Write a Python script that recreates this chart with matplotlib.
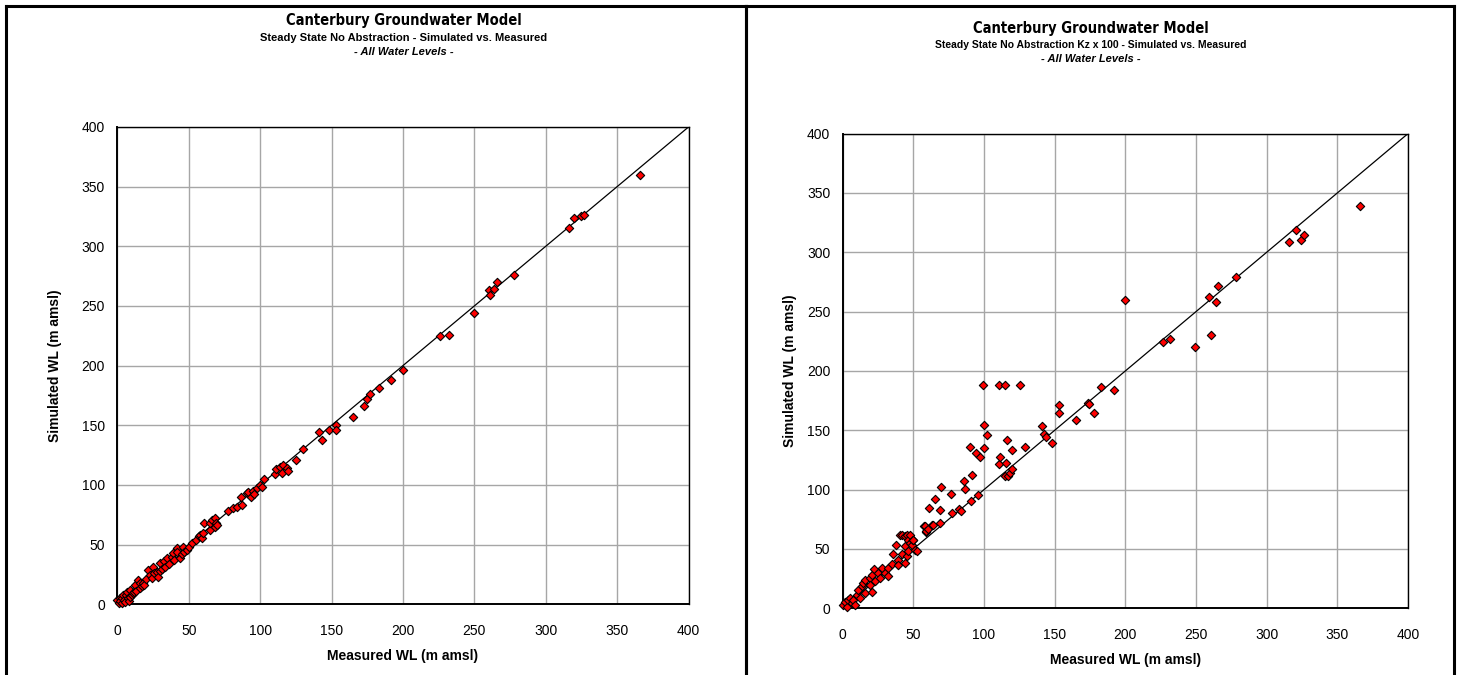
import matplotlib.pyplot as plt
from matplotlib.lines import Line2D
from matplotlib import font_manager

W, H = 1458, 675

# left chart: steady state, no abstraction
left_measured = [0, 1, 1.9, 2, 3, 3.5, 4.2, 5, 5.4, 6, 6.6, 7.7, 8, 8.9, 9, 10, 11.2, 12,
                 12.4, 13, 14.7, 15.9, 16, 17, 18.2, 19, 20, 21.7, 22.9, 24, 25.2, 26,
                 27.6, 28.7, 29.9, 30, 31, 33, 33.4, 34.5, 36, 38, 39.2, 40, 41.5, 42,
                 43.8, 45, 46.2, 47, 48.5, 50, 52, 55, 57, 57.8, 59, 59.7, 61, 64.8, 65,
                 66, 68.3, 68.3, 69, 69.5, 77.6, 81.1, 83.5, 86.3, 87, 90.5, 91.6, 93.3,
                 95.1, 95.6, 97.9, 99.8, 101, 102.8, 110.3, 111, 113.8, 115, 116.1,
                 118.5, 119.6, 125, 130, 141, 143, 148, 153, 153, 165, 173, 175, 177,
                 183, 192, 200, 226, 232, 250, 260, 261, 264, 266, 278, 316, 320, 325,
                 327, 366]
left_simulated = [3.6, 1, 5, 2.5, 5.5, 1, 7.8, 4, 2.2, 8, 10.6, 5, 3, 12, 6.5, 7.8, 9.2, 10,
                  16.2, 11.5, 20.4, 13.4, 18, 15, 17.6, 16, 21, 28.7, 24.6, 22, 31.5, 26,
                  27.3, 23.1, 34.4, 28, 30, 36, 31.5, 38.6, 34, 39.9, 42.7, 37, 46.9, 44,
                  38.6, 42, 48.3, 44, 45.5, 48, 51.1, 54, 57, 58.1, 55.3, 59.5, 68, 62.3,
                  68, 70.7, 72.1, 65, 67.9, 66.5, 78.5, 80.5, 81.8, 89.7, 83.2, 93, 94.4,
                  90.2, 95, 92.5, 97.2, 100, 98, 105, 109, 113.2, 114.8, 109.8, 116.8,
                  114, 112, 121, 130, 144, 138, 146, 150, 146, 157, 166, 172, 176, 181,
                  188, 196, 225, 226, 244, 263, 259, 264, 270, 276, 315, 324, 325, 326,
                  360]

# right chart: steady state, no abstraction, Kz x 100
right_measured = [0.5, 1.7, 2.8, 4, 5.2, 6.4, 7.5, 8.7, 9.9, 11.1, 12.3, 13.4, 14.6, 15.8,
                  15.8, 19.3, 19.3, 20.5, 20.9, 22.4, 22.9, 25.2, 26.4, 27.6, 29.9, 32.3,
                  32.3, 34.7, 35.8, 37.5, 39.4, 39.4, 40.6, 41.7, 41.8, 44.1, 44.1, 44.1,
                  45.3, 45.3, 46, 46, 47.6, 47.7, 48.8, 49.5, 50, 51.2, 52.3, 57.5, 58.2,
                  58.9, 59, 60.3, 61, 63, 63.6, 65.5, 68.5, 68.8, 69.7, 76.8, 77.5, 82.4,
                  83.8, 86.1, 86.6, 89.9, 90.8, 91.5, 94.1, 95.5, 97.2, 99.3, 99.8, 100,
                  102.1, 110.3, 110.6, 111, 114.8, 114.8, 115.7, 116.4, 117.1, 118.1,
                  119.7, 119.7, 125.6, 129.3, 141.3, 142.3, 143.7, 147.9, 153, 153, 165,
                  173.5, 174.6, 177.5, 182.6, 191.8, 199.5, 226.3, 231.9, 249.5, 259.4,
                  260.3, 264.1, 265.5, 278.6, 315.7, 320.4, 324.6, 326.3, 366]
right_simulated = [2.8, 5.7, 0.8, 7.1, 8.5, 4.2, 7.1, 2.8, 11.3, 15.5, 8.5, 18.4, 21.2, 24,
                   12.7, 25.4, 19.8, 14.1, 28.3, 33.1, 22.6, 29.7, 25.4, 33.9, 29.7, 33.9,
                   26.8, 37.6, 46, 53.7, 41, 36.7, 62.1, 45.8, 61.8, 61.3, 52.3, 38.1,
                   43.8, 62.1, 57.3, 48, 62.1, 55, 53.7, 57.9, 57.9, 49.5, 48, 69.1, 69.2,
                   64.6, 65, 67.2, 84.9, 69.8, 70.3, 92, 82.9, 71.7, 102.1, 96.7, 80.1,
                   83.8, 82.1, 107.1, 100.4, 135.6, 90.8, 112.5, 131.1, 95.3, 127.7, 188.2,
                   134.7, 154.1, 145.7, 121.2, 188.2, 127.7, 188.2, 111.9, 122.6, 141.7,
                   111.1, 114.2, 133.6, 117.5, 188.2, 135.8, 153.4, 147.2, 144.1, 139,
                   171, 164.3, 158.4, 172.7, 172.5, 164.3, 186.2, 184, 260.1, 224.2, 227,
                   220.5, 262.4, 230, 258.4, 271.3, 278.9, 308.4, 318.5, 310.7, 314.3,
                   338.8]

TICKS = list(range(0, 401, 50))

plt.rcParams['font.family'] = ['Liberation Sans', 'DejaVu Sans']

# the original titles are set in a narrow bold face; use one if there is any
title_prop = font_manager.FontProperties(family='Liberation Sans', weight='bold', size=10)
for f in font_manager.fontManager.ttflist:
    narrow = ('Narrow' in f.name or 'Condensed' in f.name or
              str(f.stretch) in ('condensed', 'semi-condensed', '75', '87'))
    if narrow and str(f.weight) in ('bold', '700') and f.style == 'normal':
        title_prop = font_manager.FontProperties(fname=f.fname, size=10.5)
        break

fig = plt.figure(figsize=(W / 100, H / 100), dpi=100)
fig.patch.set_facecolor('white')


def fx(x):
    return x / W


def fy(y):
    return 1 - y / H


def chart(box, measured, simulated, subtitle, sub_size, cx, ty, ylabelpad):
    # box = (left, top, right, bottom) of the plot area in pixels
    l, t, r, b = box
    ax = fig.add_axes([fx(l), fy(b), (r - l) / W, (b - t) / H])
    ax.set_xlim(0, 400)
    ax.set_ylim(0, 400)
    ax.set_xticks(TICKS)
    ax.set_yticks(TICKS)
    ax.grid(True, color='#a6a6a6', lw=1.0)
    ax.set_axisbelow(True)
    ax.tick_params(length=0, labelsize=10, pad=9)
    ax.tick_params(axis='x', pad=14)
    for s in ax.spines.values():
        s.set_color('black')
        s.set_linewidth(1.0)
    ax.spines['left'].set_linewidth(1.4)
    ax.spines['bottom'].set_linewidth(1.4)

    ax.plot([0, 400], [0, 400], color='black', lw=0.9, zorder=2)
    ax.scatter(measured, simulated, marker='D', s=18, c='#ff0000',
               edgecolors='black', linewidths=0.8, zorder=3, clip_on=False)

    ax.set_xlabel('Measured WL (m amsl)', fontsize=10, fontweight='bold', labelpad=8)
    ax.set_ylabel('Simulated WL (m amsl)', fontsize=10, fontweight='bold', labelpad=ylabelpad)

    fig.text(fx(cx), fy(ty), 'Canterbury Groundwater Model', ha='center', va='center',
             fontproperties=title_prop)
    fig.text(fx(cx), fy(ty + 17), subtitle, ha='center', va='center',
             fontsize=sub_size, fontweight='bold')
    fig.text(fx(cx), fy(ty + 31), '- All Water Levels -', ha='center', va='center',
             fontsize=8, fontweight='bold', style='italic')
    return ax


chart((117.3, 127, 688.5, 604.3), left_measured, left_simulated,
      'Steady State No Abstraction - Simulated vs. Measured', 8, 404, 21, 14)
chart((842.7, 133.6, 1408, 608.3), right_measured, right_simulated,
      'Steady State No Abstraction Kz x 100 - Simulated vs. Measured', 7.5, 1091, 28, 7)

# panel frames
for x0, x1 in [(6, 746), (746, 1454)]:
    fig.add_artist(Line2D([fx(x0), fx(x0)], [fy(6), 0], color='black', lw=2.2))
    fig.add_artist(Line2D([fx(x1), fx(x1)], [fy(6), 0], color='black', lw=2.2))
    fig.add_artist(Line2D([fx(x0), fx(x1)], [fy(6), fy(6)], color='black', lw=2.2))

fig.savefig('out.png', dpi=100)
